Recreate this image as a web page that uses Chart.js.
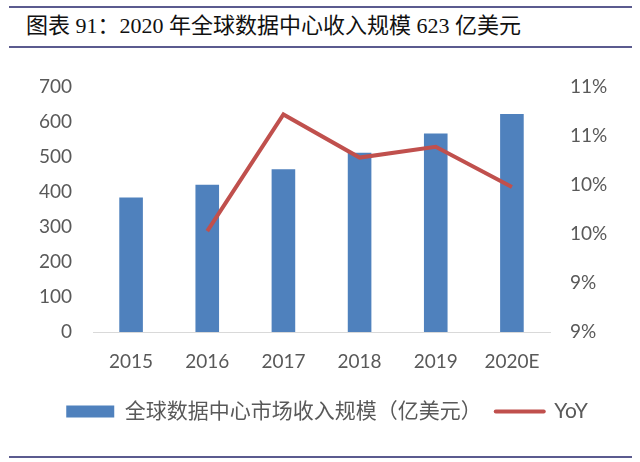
<!DOCTYPE html>
<html>
<head>
<meta charset="utf-8">
<script src="https://cdn.jsdelivr.net/npm/chart.js@4"></script>
<style>
  body { margin: 0; background: #fff; }
  #wrap { position: relative; width: 640px; height: 462px; overflow: hidden; }
  .rule { position: absolute; left: 9px; width: 623px; height: 2px; background: #5b5b8f; }
  #title {
    position: absolute; left: 26px; top: 7px;
    font-family: "Liberation Serif", "Noto Sans CJK SC", serif;
    font-size: 22px; color: #111; white-space: nowrap;
  }
  #chartBox { position: absolute; left: 0; top: 0; width: 640px; height: 462px; }
</style>
</head>
<body>
<div id="wrap">
  <div class="rule" style="top:6px"></div>
  <div id="title">图表 91：2020 年全球数据中心收入规模 623 亿美元</div>
  <div class="rule" style="top:46px"></div>
  <div id="chartBox"><canvas id="chart" width="640" height="462"></canvas></div>
  <div class="rule" style="top:456px"></div>
</div>
<script>
// ---- data ----
const years = ["2015", "2016", "2017", "2018", "2019", "2020E"];
const revenue = [384, 421, 465, 512, 567, 623];          // 亿美元
const yoy = [null, 10.03, 11.22, 10.78, 10.89, 10.48];    // %
const rightTickLabels = ["9%", "9%", "10%", "10%", "11%", "11%"];

const textColor = "#595959";
const barColor = "#4f81bd";
const lineColor = "#c0504d";
const tickFont = { family: "Lato, 'Noto Sans', sans-serif", size: 19 };

const ctx = document.getElementById("chart").getContext("2d");
new Chart(ctx, {
  type: "bar",
  data: {
    labels: years,
    datasets: [
      {
        type: "line",
        label: "YoY",
        data: yoy,
        yAxisID: "y2",
        borderColor: lineColor,
        backgroundColor: lineColor,
        borderWidth: 4,
        pointRadius: 0,
        tension: 0,
        order: 0
      },
      {
        label: "全球数据中心市场收入规模（亿美元）",
        data: revenue,
        yAxisID: "y",
        backgroundColor: barColor,
        categoryPercentage: 1,
        barPercentage: 0.31,
        order: 1
      }
    ]
  },
  options: {
    responsive: false,
    animation: false,
    layout: { padding: { top: 87, left: 14, right: 0, bottom: 30 } },
    scales: {
      x: {
        grid: { display: false, drawTicks: false },
        border: { color: "#d9d9d9", width: 1 },
        ticks: { color: textColor, font: tickFont, padding: 18, maxRotation: 0 },
        afterFit(scale) { scale.height = 55; }
      },
      y: {
        position: "left",
        min: 0, max: 700,
        grid: { display: false, drawTicks: false },
        border: { display: false },
        ticks: { stepSize: 100, color: textColor, font: tickFont, padding: 21 },
        afterFit(scale) { scale.width = 79; }
      },
      y2: {
        position: "right",
        min: 9, max: 11.5,
        grid: { display: false, drawTicks: false },
        border: { display: false },
        ticks: {
          stepSize: 0.5, color: textColor, font: tickFont, padding: 20,
          callback: (v, i) => rightTickLabels[i]
        },
        afterFit(scale) { scale.width = 90; }
      }
    },
    plugins: {
      tooltip: { enabled: false },
      legend: {
        position: "bottom",
        reverse: true,
        labels: {
          color: textColor,
          font: { family: "Lato, 'Noto Sans CJK SC', sans-serif", size: 21 },
          usePointStyle: true,
          pointStyleWidth: 48,
          boxHeight: 12,
          padding: 14,
          generateLabels(chart) {
            return chart.data.datasets.map((ds, i) => ({
              text: ds.label,
              datasetIndex: i,
              fontColor: textColor,
              fillStyle: ds.type === "line" ? lineColor : barColor,
              strokeStyle: ds.type === "line" ? lineColor : barColor,
              lineWidth: ds.type === "line" ? 4 : 0,
              lineCap: "round",
              pointStyle: ds.type === "line" ? "line" : "rect",
              hidden: false
            }));
          }
        }
      }
    }
  }
});
</script>
</body>
</html>
